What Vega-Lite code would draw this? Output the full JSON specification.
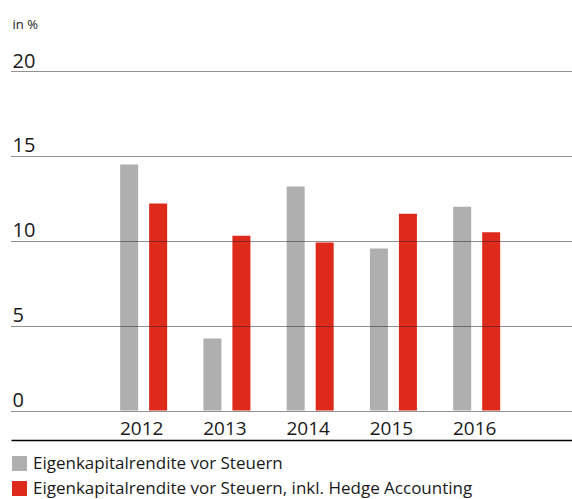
{
  "$schema": "https://vega.github.io/schema/vega-lite/v6.json",
  "width": 561,
  "height": 369,
  "autosize": {"type": "none"},
  "padding": {"left": 11, "top": 71, "right": 0, "bottom": 59},
  "config": {
    "view": {"stroke": null},
    "font": "Open Sans"
  },
  "data": {
    "values": [
      {"year": "2012", "series": "Eigenkapitalrendite vor Steuern", "value": 14.5},
      {"year": "2012", "series": "Eigenkapitalrendite vor Steuern, inkl. Hedge Accounting", "value": 12.2},
      {"year": "2013", "series": "Eigenkapitalrendite vor Steuern", "value": 4.25},
      {"year": "2013", "series": "Eigenkapitalrendite vor Steuern, inkl. Hedge Accounting", "value": 10.3},
      {"year": "2014", "series": "Eigenkapitalrendite vor Steuern", "value": 13.2},
      {"year": "2014", "series": "Eigenkapitalrendite vor Steuern, inkl. Hedge Accounting", "value": 9.9},
      {"year": "2015", "series": "Eigenkapitalrendite vor Steuern", "value": 9.55},
      {"year": "2015", "series": "Eigenkapitalrendite vor Steuern, inkl. Hedge Accounting", "value": 11.6},
      {"year": "2016", "series": "Eigenkapitalrendite vor Steuern", "value": 12.0},
      {"year": "2016", "series": "Eigenkapitalrendite vor Steuern, inkl. Hedge Accounting", "value": 10.5}
    ]
  },
  "mark": {"type": "bar"},
  "encoding": {
    "x": {
      "field": "year",
      "type": "nominal",
      "scale": {"paddingInner": 0, "paddingOuter": 0.869, "align": 0.629},
      "axis": {
        "title": null,
        "labelAngle": 0,
        "ticks": false,
        "tickSize": 0,
        "labelPadding": -6,
        "labelBaseline": "alphabetic",
        "labelFontSize": 19,
        "labelColor": "#1a1a1a",
        "labelOffset": -2,
        "domainColor": "#000000",
        "domainWidth": 1.5,
        "grid": false
      }
    },
    "xOffset": {
      "field": "series",
      "type": "nominal",
      "scale": {
        "domain": ["Eigenkapitalrendite vor Steuern", "Eigenkapitalrendite vor Steuern, inkl. Hedge Accounting"],
        "paddingInner": 0.379,
        "paddingOuter": 0.625
      }
    },
    "y": {
      "field": "value",
      "type": "quantitative",
      "scale": {"domain": [-1.73, 20], "nice": false, "zero": false},
      "axis": {
        "values": [0, 5, 10, 15, 20],
        "title": "in %",
        "titleAngle": 0,
        "titleAlign": "left",
        "titleBaseline": "middle",
        "titleX": 1,
        "titleY": -47,
        "titleFontSize": 13,
        "titleFontWeight": "normal",
        "titleColor": "#1a1a1a",
        "domain": false,
        "ticks": false,
        "tickSize": 0,
        "labelAlign": "left",
        "labelBaseline": "alphabetic",
        "labelPadding": -1,
        "labelOffset": -4,
        "labelFontSize": 20,
        "labelColor": "#1a1a1a",
        "grid": true,
        "gridColor": "#222222",
        "gridDash": [1, 1],
        "gridWidth": 1,
        "zindex": 1
      }
    },
    "y2": {"datum": 0},
    "color": {
      "field": "series",
      "type": "nominal",
      "scale": {
        "domain": ["Eigenkapitalrendite vor Steuern", "Eigenkapitalrendite vor Steuern, inkl. Hedge Accounting"],
        "range": ["#AFAFAF", "#DD2A1B"]
      },
      "legend": {
        "title": null,
        "orient": "none",
        "legendX": 0,
        "legendY": 384,
        "symbolType": "square",
        "symbolSize": 225,
        "symbolStrokeWidth": 0,
        "symbolOpacity": 1,
        "labelFontSize": 17,
        "labelColor": "#1a1a1a",
        "labelOffset": 5,
        "rowPadding": 7,
        "labelLimit": 600
      }
    }
  }
}
